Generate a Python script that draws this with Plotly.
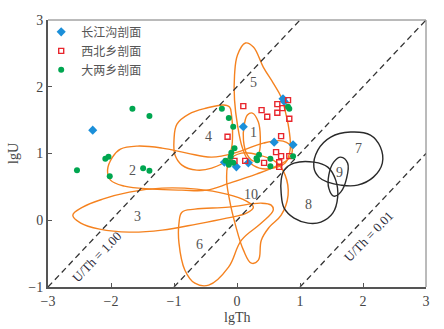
import plotly.graph_objects as go

# ---------------- data ----------------
cjg_x = [-2.29, 0.10, 0.73, 0.75, 0.59, 0.89, -0.01, -0.20, 0.18]
cjg_y = [1.35, 1.40, 1.82, 1.78, 1.17, 1.13, 0.80, 0.87, 0.86]

xbx_x = [0.10, 0.39, 0.48, 0.64, 0.64, 0.81, 0.72, 0.83, 0.70, -0.15, 0.62, 0.70, 0.83, 0.43, 0.67, 0.67, 0.13, -0.04]
xbx_y = [1.71, 1.65, 1.55, 1.74, 1.61, 1.80, 1.68, 1.52, 1.26, 1.25, 1.02, 0.96, 0.96, 0.86, 0.87, 0.80, 0.89, 0.89]

dlx_x = [-1.66, -1.39, -2.09, -2.04, -2.54, -2.02, -1.49, -1.39, -0.24, -0.13, -0.06, -0.04, -0.09, -0.10,
         -0.18, -0.13, -0.13, -0.06, 0.31, 0.35, 0.32, 0.53, 0.53, 0.81, 0.83, 0.89]
dlx_y = [1.67, 1.56, 0.92, 0.95, 0.75, 0.66, 0.78, 0.74, 1.67, 1.53, 1.40, 1.08, 1.01, 0.95,
         0.89, 0.87, 0.83, 0.86, 0.93, 0.98, 0.90, 0.92, 0.81, 1.70, 1.67, 0.96]

series_names = ["长江沟剖面", "西北乡剖面", "大两乡剖面"]

# reference lines lgU = lgTh + k
ratio_offsets = [2, 0, -2]
ratio_x_start = [-3, -1, 1]
ratio_x_end = [1, 3, 3]
ratio_labels = ["U/Th = 1.00", "U/Th = 0.01"]
ratio_label_x = [-2.22, 2.09]
ratio_label_y = [-0.55, -0.25]

# field outlines (orange)
c1_x = [0.244, 0.339, 0.370, 0.354, 0.276, 0.165, 0.102, 0.118, 0.165]
c1_y = [1.606, 1.471, 1.231, 1.021, 0.886, 0.976, 1.201, 1.441, 1.576]
c2_x = [-2.055, -1.976, -1.850, -1.583, -1.189, -0.795, -0.402, 0.008, 0.417, 0.732, 0.874, 0.827, 0.622,
        0.307, -0.118, -0.480, -0.874, -1.346, -1.787, -2.008]
c2_y = [0.751, 0.946, 1.066, 1.111, 1.081, 1.006, 0.946, 1.021, 1.156, 1.186, 1.081, 0.931, 0.811,
        0.691, 0.556, 0.451, 0.451, 0.466, 0.511, 0.601]
c3_x = [-2.606, -2.449, -2.134, -1.709, -1.189, -0.638, -0.165, 0.150, 0.260, 0.150, -0.165, -0.638,
        -1.189, -1.709, -2.181, -2.480]
c3_y = [0.076, 0.196, 0.316, 0.421, 0.481, 0.466, 0.391, 0.286, 0.196, 0.106, 0.031, -0.058,
        -0.148, -0.178, -0.133, -0.043]
c4_x = [-0.213, -0.480, -0.764, -0.953, -1.000, -0.984, -0.874, -0.638, -0.402, -0.165, -0.087, -0.071, -0.087, -0.118]
c4_y = [1.726, 1.681, 1.591, 1.441, 1.201, 0.976, 0.826, 0.751, 0.781, 0.901, 1.081, 1.351, 1.576, 1.696]
c5_x = [0.134, 0.008, -0.039, -0.039, 0.008, 0.087, 0.197, 0.354, 0.575, 0.764, 0.843, 0.827, 0.780,
        0.701, 0.575, 0.417, 0.260]
c5_y = [2.655, 2.475, 2.175, 1.800, 1.426, 1.081, 0.871, 0.781, 0.781, 0.856, 1.051, 1.351, 1.576,
        1.846, 2.055, 2.295, 2.595]
c6_x = [-0.874, -0.669, -0.134, 0.386, 0.543, 0.575, 0.386, 0.071, -0.134, -0.449, -0.669, -0.827, -0.921, -0.921]
c6_y = [0.121, 0.166, 0.196, 0.256, 0.226, 0.151, -0.043, -0.298, -0.703, -0.973, -0.943, -0.748, -0.343, -0.043]
c10_x = [-0.118, -0.165, -0.118, -0.024, 0.102, 0.228, 0.339, 0.386, 0.512, 0.701, 0.811, 0.764, 0.622, 0.354, 0.071]
c10_y = [0.901, 0.631, 0.301, -0.073, -0.448, -0.643, -0.598, -0.298, -0.103, 0.076, 0.376, 0.676, 0.871, 0.976, 1.006]
# field outlines (black)
c7_x = [1.220, 1.283, 1.488, 1.803, 2.118, 2.276, 2.307, 2.165, 1.913, 1.646, 1.441, 1.299]
c7_y = [0.796, 1.051, 1.246, 1.321, 1.276, 1.096, 0.856, 0.646, 0.526, 0.526, 0.571, 0.646]
c8_x = [0.701, 0.748, 0.906, 1.220, 1.441, 1.567, 1.598, 1.520, 1.331, 1.126, 0.906, 0.748, 0.701]
c8_y = [0.601, 0.751, 0.856, 0.871, 0.796, 0.601, 0.346, 0.106, -0.028, -0.043, 0.031, 0.181, 0.406]
c9_x = [1.646, 1.756, 1.740, 1.646, 1.535, 1.457, 1.457, 1.535]
c9_y = [0.946, 0.856, 0.631, 0.421, 0.361, 0.481, 0.676, 0.871]

field_labels = ["1", "2", "3", "4", "5", "6", "7", "8", "9", "10"]
field_label_x = [0.26, -1.66, -1.58, -0.46, 0.26, -0.59, 1.93, 1.14, 1.63, 0.23]
field_label_y = [1.31, 0.75, 0.06, 1.25, 2.06, -0.37, 1.08, 0.23, 0.71, 0.39]

x_ticks = [-3, -2, -1, 0, 1, 2, 3]
y_ticks = [-1, 0, 1, 2, 3]
x_title = "lgTh"
y_title = "lgU"

# ---------------- figure ----------------
ORANGE = "#F5821F"
BLACK = "#2a2a2a"
fig = go.Figure()

orange_curves = [(c1_x, c1_y), (c2_x, c2_y), (c3_x, c3_y), (c4_x, c4_y), (c5_x, c5_y), (c6_x, c6_y), (c10_x, c10_y)]
black_curves = [(c7_x, c7_y), (c8_x, c8_y), (c9_x, c9_y)]
for cx, cy in orange_curves:
    fig.add_trace(go.Scatter(x=cx + cx[:1], y=cy + cy[:1], mode="lines",
                             line=dict(color=ORANGE, width=1.4, shape="spline", smoothing=1.1),
                             showlegend=False, hoverinfo="skip"))
for cx, cy in black_curves:
    fig.add_trace(go.Scatter(x=cx + cx[:1], y=cy + cy[:1], mode="lines",
                             line=dict(color=BLACK, width=1.4, shape="spline", smoothing=1.1),
                             showlegend=False, hoverinfo="skip"))

for k, xs, xe in zip(ratio_offsets, ratio_x_start, ratio_x_end):
    fig.add_trace(go.Scatter(x=[xs, xe], y=[xs + k, xe + k], mode="lines",
                             line=dict(color="#333333", width=1.3, dash="6px,4px"),
                             showlegend=False, hoverinfo="skip"))

fig.add_trace(go.Scatter(x=cjg_x, y=cjg_y, mode="markers", name=series_names[0],
                         marker=dict(symbol="diamond", size=7, color="#1B8FD9")))
fig.add_trace(go.Scatter(x=xbx_x, y=xbx_y, mode="markers", name=series_names[1],
                         marker=dict(symbol="square-open", size=5, color="#E8262D", line=dict(width=1.4))))
fig.add_trace(go.Scatter(x=dlx_x, y=dlx_y, mode="markers", name=series_names[2],
                         marker=dict(symbol="circle", size=6, color="#00A650")))

for t, x, y in zip(field_labels, field_label_x, field_label_y):
    fig.add_annotation(x=x, y=y, text=t, showarrow=False,
                       font=dict(family="Liberation Serif", size=14, color="#555555"))
for t, x, y in zip(ratio_labels, ratio_label_x, ratio_label_y):
    fig.add_annotation(x=x, y=y, text=t, showarrow=False, textangle=-46,
                       font=dict(family="Liberation Serif", size=13, color="#2a2a3a"))

axis_font = dict(family="Liberation Serif", size=14, color="#444444")
fig.add_annotation(xref="paper", yref="paper", x=0.5, y=0, yanchor="top", yshift=-21,
                   text=x_title, showarrow=False, font=axis_font)

# top and right thin frame
fig.add_shape(type="line", xref="paper", yref="paper", x0=0, x1=1, y0=1, y1=1,
              line=dict(color="#777777", width=1))
fig.add_shape(type="line", xref="paper", yref="paper", x0=1, x1=1, y0=0, y1=1,
              line=dict(color="#777777", width=1))

fig.update_layout(
    width=444, height=329,
    margin=dict(l=45, r=18, t=20, b=42),
    paper_bgcolor="white", plot_bgcolor="white",
    showlegend=True,
    legend=dict(x=-0.018, y=1.01, xanchor="left", yanchor="top", bgcolor="rgba(0,0,0,0)",
                font=dict(family="Noto Sans CJK SC", size=12, color="#555555"),
                itemwidth=30, tracegroupgap=0),
    xaxis=dict(range=[-3, 3], tickvals=x_ticks, showgrid=False, zeroline=False,
               showline=True, linecolor="#555555", linewidth=2, ticks="inside", ticklen=4,
               tickcolor="#555555", tickfont=axis_font),
    yaxis=dict(range=[-1, 3], tickvals=y_ticks, showgrid=False, zeroline=False,
               showline=True, linecolor="#555555", linewidth=2, ticks="inside", ticklen=4,
               tickcolor="#555555", tickfont=axis_font,
               title=dict(text=y_title, font=axis_font, standoff=6)),
)

fig.write_html("out.html")
